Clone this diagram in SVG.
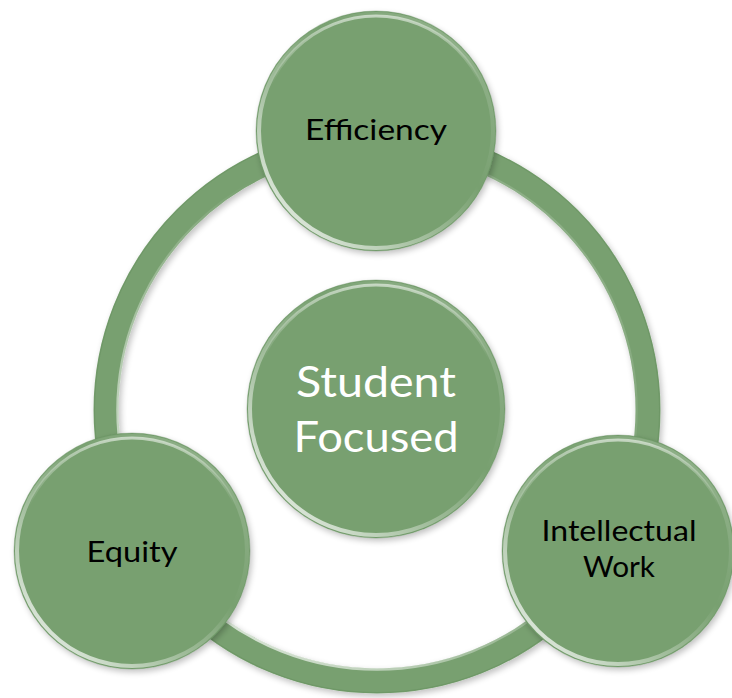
<svg xmlns="http://www.w3.org/2000/svg" width="732" height="698" viewBox="0 0 732 698">
<defs>
<filter id="sh" x="-20%" y="-20%" width="140%" height="140%">
<feGaussianBlur in="SourceAlpha" stdDeviation="3"/>
<feOffset dx="2" dy="3" result="b"/>
<feComponentTransfer><feFuncA type="linear" slope="0.25"/></feComponentTransfer>
<feMerge><feMergeNode/><feMergeNode in="SourceGraphic"/></feMerge>
</filter>
<linearGradient id="rim" x1="0" y1="1" x2="1" y2="0">
<stop offset="0" stop-color="#ffffff" stop-opacity="0.95"/>
<stop offset="0.35" stop-color="#ffffff" stop-opacity="0.35"/>
<stop offset="0.6" stop-color="#ffffff" stop-opacity="0"/>
<stop offset="1" stop-color="#ffffff" stop-opacity="0.25"/>
</linearGradient>
<linearGradient id="rimTop" x1="0" y1="0" x2="0" y2="1">
<stop offset="0" stop-color="#ffffff" stop-opacity="0.55"/>
<stop offset="0.3" stop-color="#ffffff" stop-opacity="0"/>
</linearGradient>
</defs>
<style>
.node{fill:#78a070;}
.rim{fill:none;stroke:url(#rim);stroke-width:4;}
.rimt{fill:none;stroke:url(#rimTop);stroke-width:3;}
.edge{fill:none;stroke:#5f8a58;stroke-width:1;opacity:0.35;}
.lbl{font-family:Lato,"Open Sans","Liberation Sans",sans-serif;font-size:29px;fill:#000;text-anchor:middle;}
.big{font-family:Lato,"Open Sans","Liberation Sans",sans-serif;font-size:42px;fill:#fff;text-anchor:middle;}
</style>
<rect width="732" height="698" fill="#ffffff"/>
<g id="connectors">
<circle cx="377" cy="410" r="271" fill="none" stroke="#78a070" stroke-width="25" filter="url(#sh)"/>
<circle cx="377" cy="410" r="259.5" fill="none" stroke="url(#rim)" stroke-width="2.5"/>
<circle cx="377" cy="410" r="282.5" fill="none" stroke="#5f8a58" stroke-width="1" opacity="0.4"/>
</g>
<g id="node-student-focused">
<circle class="node" cx="376" cy="409" r="129" filter="url(#sh)"/>
<circle class="rim" cx="376" cy="409" r="126"/>
<circle class="rimt" cx="376" cy="409" r="124"/>
<circle class="edge" cx="376" cy="409" r="129"/>
<text class="big" x="376" y="397" textLength="160" lengthAdjust="spacingAndGlyphs">Student</text>
<text class="big" x="376" y="452" textLength="165" lengthAdjust="spacingAndGlyphs">Focused</text>
</g>
<g id="node-efficiency">
<circle class="node" cx="376" cy="131" r="120" filter="url(#sh)"/>
<circle class="rim" cx="376" cy="131" r="117"/>
<circle class="rimt" cx="376" cy="131" r="115"/>
<circle class="edge" cx="376" cy="131" r="120"/>
<text class="lbl" x="376" y="140" textLength="142" lengthAdjust="spacingAndGlyphs">Efficiency</text>
</g>
<g id="node-equity">
<circle class="node" cx="132" cy="551" r="118" filter="url(#sh)"/>
<circle class="rim" cx="132" cy="551" r="115"/>
<circle class="rimt" cx="132" cy="551" r="113"/>
<circle class="edge" cx="132" cy="551" r="118"/>
<text class="lbl" x="132" y="562" textLength="91" lengthAdjust="spacingAndGlyphs">Equity</text>
</g>
<g id="node-intellectual-work">
<circle class="node" cx="618" cy="551" r="116" filter="url(#sh)"/>
<circle class="rim" cx="618" cy="551" r="113"/>
<circle class="rimt" cx="618" cy="551" r="111"/>
<circle class="edge" cx="618" cy="551" r="116"/>
<text class="lbl" x="619" y="541" textLength="155" lengthAdjust="spacingAndGlyphs">Intellectual</text>
<text class="lbl" x="619" y="577" textLength="72" lengthAdjust="spacingAndGlyphs">Work</text>
</g>
</svg>
